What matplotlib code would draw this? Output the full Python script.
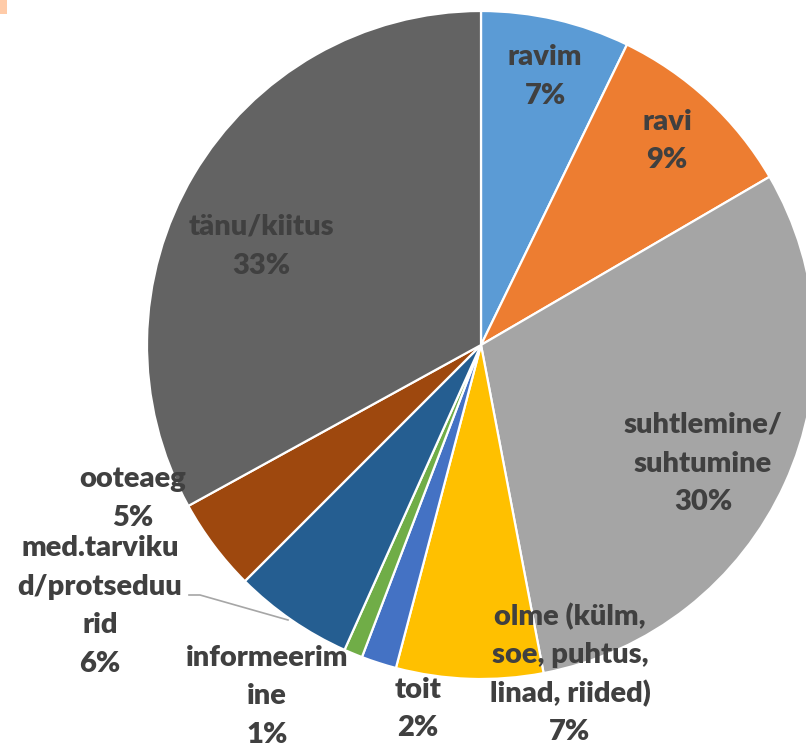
import matplotlib
matplotlib.use("Agg")
import matplotlib.pyplot as plt
from matplotlib.patches import Rectangle

categories = ["ravim", "ravi", "suhtlemine/\nsuhtumine", "olme (külm,\nsoe, puhtus,\nlinad, riided)",
              "toit", "informeerim\nine", "med.tarviku\nd/protseduu\nrid", "ooteaeg", "tänu/kiitus"]
values = [7.2, 9.4, 30.4, 7.1, 1.7, 0.9, 5.8, 4.5, 33.0]
percent_labels = ["7%", "9%", "30%", "7%", "2%", "1%", "6%", "5%", "33%"]
colors = ["#5B9BD5", "#ED7D31", "#A5A5A5", "#FFC000", "#4472C4",
          "#70AD47", "#255E91", "#9E480E", "#636363"]

W, H = 806, 743
fig = plt.figure(figsize=(W / 100, H / 100), dpi=100)
ax = fig.add_axes([0, 0, 1, 1])

cx, cy, r = 481, H - 345, 334
ax.pie(values, colors=colors, startangle=90, counterclock=False,
       center=(cx, cy), radius=r, frame=True,
       wedgeprops=dict(edgecolor="white", linewidth=1.6))
ax.set_xlim(0, W)
ax.set_ylim(0, H)
ax.set_aspect("equal")
ax.axis("off")

# label positions in pixel coords (x, y of first line centre from top)
label_pos = [(545, 57), (667, 122), (703, 425), (570, 617), (418, 690),
             (267, 658), (100, 548), (133, 479), (261, 227)]
step = 38.5
for name, pct, (lx, ly) in zip(categories, percent_labels, label_pos):
    lines = name.split("\n") + [pct]
    for i, line in enumerate(lines):
        ax.text(lx, H - (ly + i * step), line, ha="center", va="center",
                fontsize=21, fontweight="heavy", family=["Lato", "DejaVu Sans"],
                color="#404040")

# leader line for med.tarvikud
ax.plot([189, 200, 288], [H - 595, H - 595, H - 620], color="#A6A6A6", lw=1.2)

fig.patches.append(Rectangle((0, H - 14), 7, 14, transform=None,
                             facecolor="#FFCBA8", edgecolor="none"))
fig.savefig("out.png", dpi=100)
